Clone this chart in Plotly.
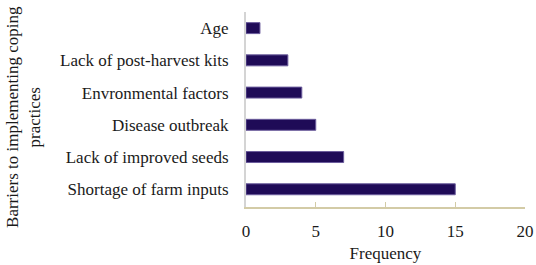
import plotly.graph_objects as go

categories = ["Shortage of farm inputs", "Lack of improved seeds", "Disease outbreak",
              "Envronmental factors", "Lack of post-harvest kits", "Age"]
frequency = [15, 7, 5, 4, 3, 1]
x_ticks = [0, 5, 10, 15, 20]

font_family = "Liberation Serif"

fig = go.Figure(go.Bar(
    x=frequency, y=categories, orientation="h",
    marker=dict(color="#1f0b57", line=dict(color="#6b5c9c", width=1)),
    width=0.34,
))

fig.update_layout(
    width=536, height=265,
    margin=dict(l=246, r=11, t=12, b=58),
    plot_bgcolor="white", paper_bgcolor="white",
    font=dict(family=font_family, size=17, color="#1a1a1a"),
    showlegend=False,
    xaxis=dict(
        range=[0, 20], tickvals=x_ticks, showgrid=False, zeroline=False,
        showline=True, linecolor="#d3cba6", linewidth=2,
        ticks="inside", tickcolor="#d3cba6", ticklen=5, tickwidth=1,
        ticklabelstandoff=8, automargin=False,
        title=dict(text="Frequency", standoff=7, font=dict(size=17)),
    ),
    yaxis=dict(
        range=[-0.55, 5.5], showgrid=False, zeroline=False,
        showline=True, linecolor="#d4d4d4", linewidth=2,
        ticks="", ticklabelstandoff=12, automargin=False,
    ),
    annotations=[dict(
        text="Barriers to implementing coping<br>practices",
        textangle=-90, x=-0.797, y=0.46, xref="paper", yref="paper",
        xanchor="center", yanchor="middle",
        showarrow=False, font=dict(size=17), align="center",
    )],
)

fig.write_html("out.html", config={"displayModeBar": False},
               post_script="document.body.style.margin='0';document.body.style.padding='0';")
